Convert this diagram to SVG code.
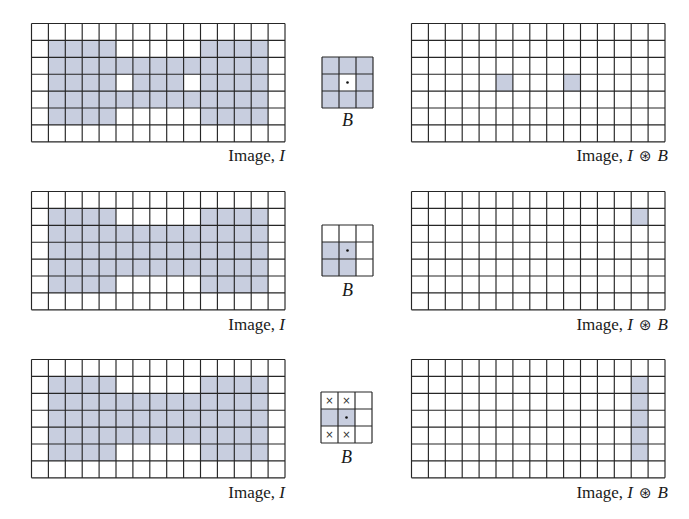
<svg xmlns="http://www.w3.org/2000/svg" xmlns:xlink="http://www.w3.org/1999/xlink" width="689" height="519" viewBox="0 0 689 519">
<style>
.bg{fill:#ffffff}
.sh{fill:#c8cedf}
.gl{fill:none;stroke:#262626;stroke-width:1.15}
.lbl{font-family:"Liberation Serif","DejaVu Serif",serif;font-size:17px;fill:#1a1a1a}
.it{font-style:italic}
.op{font-family:"DejaVu Sans","Liberation Serif",serif;font-size:15px}
.bl{font-family:"Liberation Serif","DejaVu Serif",serif;font-size:18px;font-style:italic;fill:#1a1a1a;text-anchor:middle}
.x{font-family:"DejaVu Sans",sans-serif;font-size:10px;fill:#333;text-anchor:middle}
</style>
<defs>
<path id="g157" class="gl" d="M0 0H253.5M0 16.9H253.5M0 33.8H253.5M0 50.7H253.5M0 67.6H253.5M0 84.5H253.5M0 101.4H253.5M0 118.3H253.5M0 0V118.3M16.9 0V118.3M33.8 0V118.3M50.7 0V118.3M67.6 0V118.3M84.5 0V118.3M101.4 0V118.3M118.3 0V118.3M135.2 0V118.3M152.1 0V118.3M169 0V118.3M185.9 0V118.3M202.8 0V118.3M219.7 0V118.3M236.6 0V118.3M253.5 0V118.3"/>
<path id="g33" class="gl" d="M0 0H51M0 17H51M0 34H51M0 51H51M0 0V51M17 0V51M34 0V51M51 0V51"/>
</defs>
<rect width="689" height="519" fill="#ffffff"/>

<g id="image-I-1" transform="translate(31.5,23.5)">
<rect class="bg" width="253.5" height="118.3"/>
<rect class="sh" x="16.9" y="16.9" width="67.6" height="84.5"/>
<rect class="sh" x="169" y="16.9" width="67.6" height="84.5"/>
<rect class="sh" x="84.5" y="33.8" width="84.5" height="16.9"/>
<rect class="sh" x="84.5" y="67.6" width="84.5" height="16.9"/>
<rect class="sh" x="101.4" y="50.7" width="50.7" height="16.9"/>
<use xlink:href="#g157"/>
</g>
<g id="B-1" transform="translate(322,57)">
<rect class="sh" width="51" height="51"/>
<rect class="bg" x="17" y="17" width="17" height="17"/>
<use xlink:href="#g33"/>
<circle cx="25.5" cy="25.5" r="1.3" fill="#111"/>
</g>
<g id="result-1" transform="translate(411.5,23.5)">
<rect class="bg" width="253.5" height="118.3"/>
<rect class="sh" x="84.5" y="50.7" width="16.9" height="16.9"/>
<rect class="sh" x="152.1" y="50.7" width="16.9" height="16.9"/>
<use xlink:href="#g157"/>
</g>

<g id="image-I-2" transform="translate(31.5,191.5)">
<rect class="bg" width="253.5" height="118.3"/>
<rect class="sh" x="16.9" y="16.9" width="67.6" height="84.5"/>
<rect class="sh" x="169" y="16.9" width="67.6" height="84.5"/>
<rect class="sh" x="84.5" y="33.8" width="84.5" height="50.7"/>
<use xlink:href="#g157"/>
</g>
<g id="B-2" transform="translate(322,225)">
<rect class="bg" width="51" height="51"/>
<rect class="sh" x="0" y="17" width="34" height="34"/>
<use xlink:href="#g33"/>
<circle cx="25.5" cy="25.5" r="1.3" fill="#111"/>
</g>
<g id="result-2" transform="translate(411.5,191.5)">
<rect class="bg" width="253.5" height="118.3"/>
<rect class="sh" x="219.7" y="16.9" width="16.9" height="16.9"/>
<use xlink:href="#g157"/>
</g>

<g id="image-I-3" transform="translate(31.5,359.5)">
<rect class="bg" width="253.5" height="118.3"/>
<rect class="sh" x="16.9" y="16.9" width="67.6" height="84.5"/>
<rect class="sh" x="169" y="16.9" width="67.6" height="84.5"/>
<rect class="sh" x="84.5" y="33.8" width="84.5" height="50.7"/>
<use xlink:href="#g157"/>
</g>
<g id="B-3" transform="translate(321,392)">
<rect class="bg" width="51" height="51"/>
<rect class="sh" x="0" y="17" width="34" height="17"/>
<use xlink:href="#g33"/>
<circle cx="25.5" cy="25.5" r="1.3" fill="#111"/>
<text class="x" x="8.5" y="12.3">×</text>
<text class="x" x="25.5" y="12.3">×</text>
<text class="x" x="8.5" y="46.3">×</text>
<text class="x" x="25.5" y="46.3">×</text>
</g>
<g id="result-3" transform="translate(411.5,359.5)">
<rect class="bg" width="253.5" height="118.3"/>
<rect class="sh" x="219.7" y="16.9" width="16.9" height="84.5"/>
<use xlink:href="#g157"/>
</g>

<g id="labels">
<text class="lbl" x="285" y="161" text-anchor="end">Image, <tspan class="it">I</tspan></text>
<text class="lbl" x="668" y="161" text-anchor="end">Image, <tspan class="it">I</tspan><tspan class="op" dx="6">⊛</tspan><tspan class="it" dx="6">B</tspan></text>
<text class="bl" x="347.5" y="126">B</text>
<text class="lbl" x="285" y="330" text-anchor="end">Image, <tspan class="it">I</tspan></text>
<text class="lbl" x="668" y="330" text-anchor="end">Image, <tspan class="it">I</tspan><tspan class="op" dx="6">⊛</tspan><tspan class="it" dx="6">B</tspan></text>
<text class="bl" x="347.5" y="296">B</text>
<text class="lbl" x="285" y="498" text-anchor="end">Image, <tspan class="it">I</tspan></text>
<text class="lbl" x="668" y="498" text-anchor="end">Image, <tspan class="it">I</tspan><tspan class="op" dx="6">⊛</tspan><tspan class="it" dx="6">B</tspan></text>
<text class="bl" x="346.5" y="463">B</text>
</g>
<g id="connectors"/>
</svg>
